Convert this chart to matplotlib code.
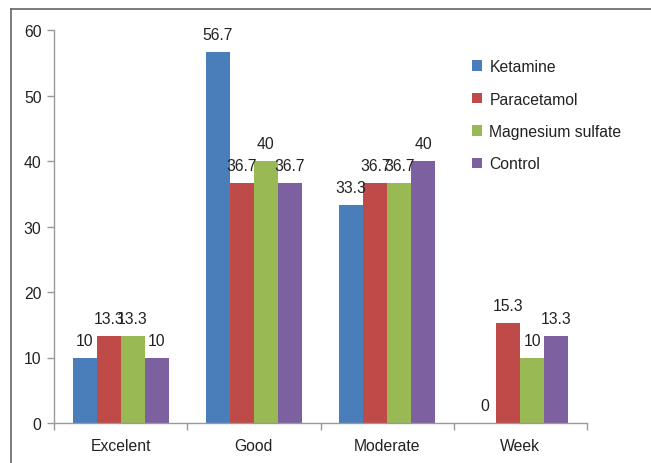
import matplotlib
matplotlib.use("Agg")
import matplotlib.pyplot as plt
from matplotlib.patches import Patch
from matplotlib.lines import Line2D
import numpy as np

plt.rcParams['font.family'] = ['Liberation Sans', 'DejaVu Sans']

categories = ["Excelent", "Good", "Moderate", "Week"]
series_names = ["Ketamine", "Paracetamol", "Magnesium sulfate", "Control"]
ketamine = [10, 56.7, 33.3, 0]
paracetamol = [13.3, 36.7, 36.7, 15.3]
magnesium = [13.3, 40, 36.7, 10]
control = [10, 36.7, 40, 13.3]
value_labels = [
    ["10", "56.7", "33.3", "0"],
    ["13.3", "36.7", "36.7", "15.3"],
    ["13.3", "40", "36.7", "10"],
    ["10", "36.7", "40", "13.3"],
]
colors = ["#4A7EBB", "#BE4B48", "#98B954", "#7D60A0"]

FS = 11.3
fig = plt.figure(figsize=(6.51, 4.64), dpi=100)
ax = fig.add_axes([54/651, 1-424/464, (587-54)/651, (424-31)/464])

series = [ketamine, paracetamol, magnesium, control]
x = np.arange(len(categories))
bw = 0.18
for i, (vals, c) in enumerate(zip(series, colors)):
    pos = x + (i - 1.5) * bw
    ax.bar(pos, vals, width=bw, color=c, edgecolor='none', zorder=2)
    for p, v, lab in zip(pos, vals, value_labels[i]):
        ax.annotate(lab, (p, v), xytext=(0, 7), textcoords='offset points',
                    ha='center', va='bottom', fontsize=FS, color='#222222')

ax.set_xlim(-0.5, len(categories) - 0.5)
ax.set_ylim(0, 60)
ax.set_yticks([0, 10, 20, 30, 40, 50, 60])
ax.set_xticks(x)
ax.set_xticklabels(categories)
ax.set_xticks(np.arange(len(categories) + 1) - 0.5, minor=True)
ax.tick_params(axis='x', which='major', length=0, pad=11, labelsize=FS, labelcolor='#222222')
ax.tick_params(axis='x', which='minor', length=5, color='#999999', width=1)
ax.tick_params(axis='y', length=5, color='#999999', width=1, labelsize=FS, labelcolor='#222222', pad=4)
for s in ['top', 'right']:
    ax.spines[s].set_visible(False)
for s in ['left', 'bottom']:
    ax.spines[s].set_color('#999999')
    ax.spines[s].set_linewidth(1)

handles = [Patch(facecolor=c, edgecolor='none') for c in colors]
fig.legend(handles, series_names, loc='upper left',
           bbox_to_anchor=(458/651, 1-46/464), frameon=False,
           handlelength=0.65, handleheight=0.65, handletextpad=0.45,
           labelspacing=1.11, fontsize=FS, labelcolor='#222222')

# image border lines (left and top)
fig.add_artist(Line2D([11/651, 11/651], [0, 1-10/464], transform=fig.transFigure,
                      color='#666666', linewidth=1.2))
fig.add_artist(Line2D([11/651, 1], [1-10/464, 1-10/464], transform=fig.transFigure,
                      color='#666666', linewidth=1.2))

fig.savefig("out.png", dpi=100)
